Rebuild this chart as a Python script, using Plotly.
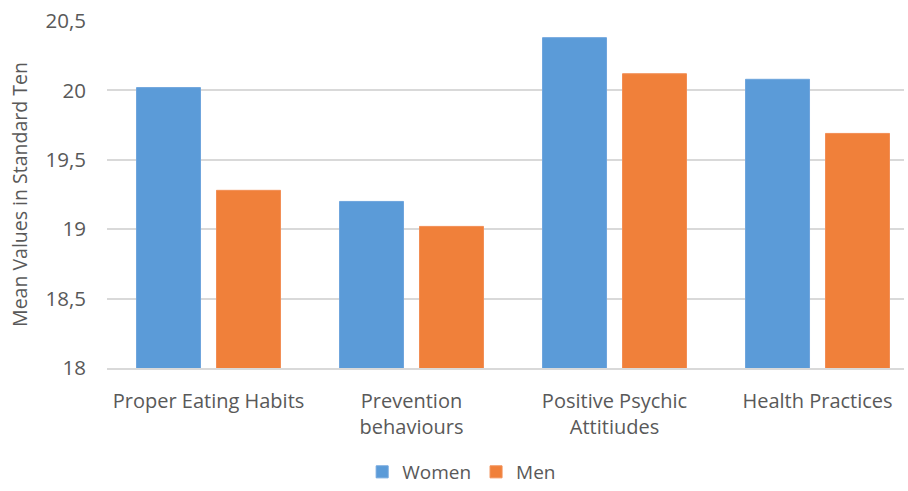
import plotly.graph_objects as go

categories = ["Proper Eating Habits", "Prevention<br>behaviours", "Positive Psychic<br>Attitiudes", "Health Practices"]
women = [20.02, 19.2, 20.38, 20.08]
men = [19.28, 19.02, 20.12, 19.69]
y_ticks = [18, 18.5, 19, 19.5, 20, 20.5]
y_tick_labels = ["18", "18,5", "19", "19,5", "20", "20,5"]

FONT = "Open Sans"
GREY = "#595959"

fig = go.Figure()
fig.add_trace(go.Bar(name="Women", x=categories, y=women,
                     marker=dict(color="#5b9bd8", line=dict(color="#6fa5dd", width=1))))
fig.add_trace(go.Bar(name="Men", x=categories, y=men,
                     marker=dict(color="#f0803a", line=dict(color="#f28e55", width=1))))

fig.update_layout(
    width=908, height=491,
    margin=dict(l=107, r=4, t=21, b=123, autoexpand=False),
    paper_bgcolor="white", plot_bgcolor="white",
    barmode="group", bargap=0.212, bargroupgap=0.2,
    font=dict(family=FONT, size=19, color=GREY),
    showlegend=True,
    legend=dict(orientation="h", x=0.445, xanchor="center", xref="paper",
                y=-0.014, yanchor="bottom", yref="container",
                font=dict(size=19, color=GREY), itemwidth=30, traceorder="normal"),
)
fig.update_yaxes(range=[18, 20.5], tickvals=y_ticks, ticktext=y_tick_labels,
                 showgrid=True, gridcolor="#d9d9d9", gridwidth=1.5, automargin=False,
                 zeroline=False, showline=False, ticks="", ticklabelstandoff=20,
                 tickfont=dict(size=20.5, color=GREY),
                 title=dict(text="Mean Values in Standard Ten", font=dict(size=19.5, color=GREY), standoff=12))
fig.update_xaxes(range=[-0.5, 3.426], showline=True, linecolor="#d9d9d9", linewidth=1.5, ticks="",
                 automargin=False,
                 tickfont=dict(size=20, color=GREY), ticklabelstandoff=14)

fig.write_html("out.html")
